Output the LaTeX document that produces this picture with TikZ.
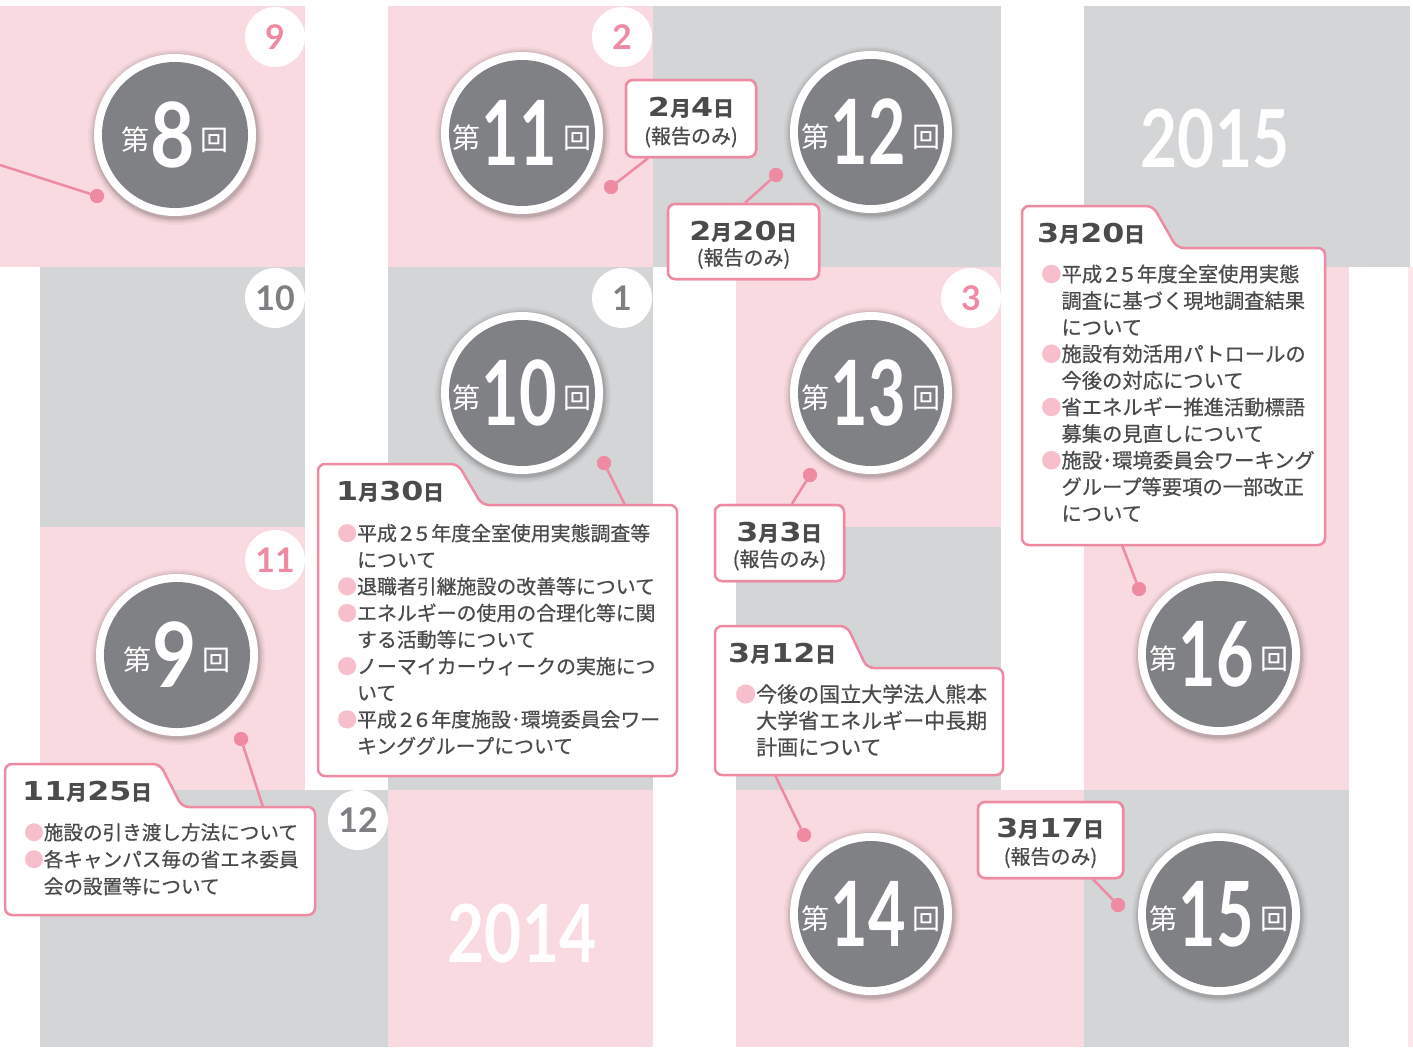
\documentclass[tikz,border=0pt]{standalone}
\usepackage{fontspec}
\usepackage{graphicx}
\setmainfont{Noto Sans CJK JP}
\newfontfamily\bodyf{Noto Sans CJK JP}[FakeBold=0.6]
\newfontfamily\latof{Lato}
\newfontfamily\dvf{DejaVu Sans}
\definecolor{tilepink}{HTML}{F9DAE0}
\definecolor{tilegray}{HTML}{D4D5D7}
\definecolor{accent}{HTML}{EE8BA3}
\definecolor{bulpink}{HTML}{F7BECB}
\definecolor{txtc}{HTML}{4B4B4D}
\definecolor{badgec}{HTML}{808184}
\definecolor{lblgray}{HTML}{7E7F82}
\definecolor{edgepink}{HTML}{FBE6EA}
\newcommand\bul{\textcolor{bulpink}{●}}
\newcommand\ind{\hspace*{1em}}
\newcommand\dg[2]{\kern3pt\scalebox{1.15}[1]{#1}\kern3pt\scalebox{1.15}[1]{#2}\kern3pt}
\newcommand\dnum[1]{{\dvf\bfseries\fontsize{26}{26}\selectfont\scalebox{1.22}[1]{#1}}}
\newcommand\dk[1]{{\bfseries\fontsize{21}{21}\selectfont #1}}
\newcommand\kfont{\fontsize{28}{28}\selectfont}
\newcommand\numf{\latof\bfseries\fontsize{90}{90}\selectfont}
\newcommand\badge[5]{%
  \foreach \r/\o in {88/0.03,86/0.05,84/0.07,82.5/0.09}{\fill[black, opacity=\o] (#2+1,#3+2) circle (\r pt);}
  \node[circle, fill=white, minimum size=162pt, inner sep=0] (#1) at (#2,#3) {};
  \node[circle, fill=badgec, minimum size=146pt, inner sep=0] (#1i) at (#1) {};
  \node[inner sep=0, anchor=base, text=white] (#1t) at (#2,#3+32.5)
    {\raisebox{17pt}{\kfont 第}\kern1pt\scalebox{#5}[1]{\numf #4}\kern6pt\raisebox{17pt}{\kfont 回}};
}
\tikzset{
  tilep/.style={fill=tilepink},
  tileg/.style={fill=tilegray},
  lbl/.style={circle, fill=white, minimum size=60pt, inner sep=0, font=\latof\bfseries\fontsize{34}{34}\selectfont},
  conn/.style={draw=accent, line width=2.5pt},
  dotn/.style={circle, fill=accent, minimum size=14pt, inner sep=0},
  callout/.style={draw=accent, line width=2.5pt, fill=white, rounded corners=7pt},
  boxn/.style={callout, rectangle, inner sep=0},
  bodytxt/.style={inner sep=0, anchor=base west, text=txtc, font=\bodyf\fontsize{#1}{26.6}\selectfont},
  datetxt/.style={inner sep=0, text=txtc},
  subtxt/.style={inner sep=0, anchor=base, text=txtc, font=\bodyf\fontsize{20}{20}\selectfont},
  yeartxt/.style={inner sep=0, font=\latof\bfseries\fontsize{80}{80}\selectfont},
}
\begin{document}
\begin{tikzpicture}[x=1pt, y=-1pt]
\useasboundingbox (0,0) rectangle (1413,1047);
% tiles
\fill[tilep] (0,6) rectangle (305,267);
\fill[tilep] (388,6) rectangle (653,267);
\fill[tileg] (653,6) rectangle (1001,267);
\fill[tileg] (1084,6) rectangle (1410,267);
\fill[tileg] (40,267) rectangle (305,527);
\fill[tileg] (388,267) rectangle (653,527);
\fill[tilep] (736,267) rectangle (1001,527);
\fill[tilep] (1084,267) rectangle (1349,527);
\fill[tilep] (40,527) rectangle (305,790);
\fill[tileg] (388,527) rectangle (653,790);
\fill[tileg] (736,527) rectangle (1001,790);
\fill[tilep] (1084,527) rectangle (1349,790);
\fill[tileg] (40,790) rectangle (388,1047);
\fill[tilep] (388,790) rectangle (653,1047);
\fill[tilep] (736,790) rectangle (1084,1047);
\fill[tileg] (1084,790) rectangle (1349,1047);
\fill[edgepink] (1408,267) rectangle (1413,1047);
% month labels
\node[lbl, text=accent] (m9) at (275,37) {9};
\node[lbl, text=accent] (m2) at (622,37) {2};
\node[lbl, text=lblgray] (m10) at (275,298) {10};
\node[lbl, text=lblgray] (m1) at (622,298) {1};
\node[lbl, text=accent] (m3) at (971,298) {3};
\node[lbl, text=accent] (m11) at (275,560) {11};
\node[lbl, text=lblgray] (m12) at (358,820) {12};
% years
\node[yeartxt, text=white] (y2015) at (1215,139) {\scalebox{0.8}[1]{2015}};
\node[yeartxt, text=white] (y2014) at (522,934) {\scalebox{0.8}[1]{2014}};
% dots
\node[dotn] (d8) at (97,196) {};
\node[dotn] (d11) at (611,187) {};
\node[dotn] (d12) at (776,175) {};
\node[dotn] (d10) at (604,463) {};
\node[dotn] (d13) at (810,475) {};
\node[dotn] (d9) at (241,739) {};
\node[dotn] (d16) at (1139,589) {};
\node[dotn] (d14) at (804,835) {};
\node[dotn] (d15) at (1118,905) {};
% badges
\badge{c8}{175}{135}{8}{0.85}
\badge{c11}{522}{133}{11}{0.72}
\badge{c12}{871}{132}{12}{0.72}
\badge{c10}{522}{393}{10}{0.72}
\badge{c13}{871}{393}{13}{0.72}
\badge{c9}{177}{655}{9}{0.85}
\badge{c16}{1219}{654}{16}{0.72}
\badge{c14}{871}{914}{14}{0.72}
\badge{c15}{1219}{914}{15}{0.72}
% simple boxes
\node[boxn, minimum width=130pt, minimum height=77pt] (b24) at (691,118.5) {};
\node[boxn, minimum width=151pt, minimum height=75pt] (b220) at (743.5,241.5) {};
\node[boxn, minimum width=129pt, minimum height=76pt] (b33) at (779.5,543) {};
\node[boxn, minimum width=145pt, minimum height=76pt] (b317) at (1050.5,840) {};
% tab callout attachment points
\coordinate (a8) at (0,165);
\coordinate (a130) at (625,505);
\coordinate (a312) at (775,775);
\coordinate (a320) at (1122,545);
\coordinate (a1125) at (263,807);
% connectors
\draw[conn] (a8) -- (d8);
\draw[conn] ([xshift=-43pt]b24.south) -- (d11);
\draw[conn] ([xshift=1.5pt]b220.north) -- (d12);
\draw[conn] ([xshift=12.5pt]b33.north) -- (d13);
\draw[conn] ([xshift=42.5pt]b317.south) -- (d15);
\draw[conn] (a130) -- (d10);
\draw[conn] (a312) -- (d14);
\draw[conn] (a320) -- (d16);
\draw[conn] (a1125) -- (d9);
\node[dotn] at (d8) {};
\node[dotn] at (d11) {};
\node[dotn] at (d12) {};
\node[dotn] at (d10) {};
\node[dotn] at (d13) {};
\node[dotn] at (d9) {};
\node[dotn] at (d16) {};
\node[dotn] at (d14) {};
\node[dotn] at (d15) {};
% boxes on top
\node[boxn, minimum width=130pt, minimum height=77pt] at (b24) {};
\node[boxn, minimum width=151pt, minimum height=75pt] at (b220) {};
\node[boxn, minimum width=129pt, minimum height=76pt] at (b33) {};
\node[boxn, minimum width=145pt, minimum height=76pt] at (b317) {};
\draw[callout] (318,776) -- (318,464) -- (458,464) -- (482,505) -- (677,505) -- (677,776) -- cycle;
\draw[callout] (715,775) -- (715,626) -- (847,626) -- (867,668) -- (1003,668) -- (1003,775) -- cycle;
\draw[callout] (1022,545) -- (1022,206) -- (1153,206) -- (1177,248) -- (1325,248) -- (1325,545) -- cycle;
\draw[callout] (5,915) -- (5,764) -- (160,764) -- (182,807) -- (315,807) -- (315,915) -- cycle;
% simple box texts
\node[datetxt, anchor=base] (t24) at (691,116) {\dnum{2}\dk{月}\dnum{4}\dk{日}};
\node[subtxt] (s24) at (691,143.5) {(報告のみ)};
\node[datetxt, anchor=base] (t220) at (743.5,240) {\dnum{2}\dk{月}\dnum{20}\dk{日}};
\node[subtxt] (s220) at (743.5,265) {(報告のみ)};
\node[datetxt, anchor=base] (t33) at (779.5,541) {\dnum{3}\dk{月}\dnum{3}\dk{日}};
\node[subtxt] (s33) at (779.5,566.5) {(報告のみ)};
\node[datetxt, anchor=base] (t317) at (1050.5,837) {\dnum{3}\dk{月}\dnum{17}\dk{日}};
\node[subtxt] (s317) at (1050.5,864) {(報告のみ)};
% tab dates
\node[datetxt, anchor=base west] (t130) at (336,500) {\dnum{1}\dk{月}\dnum{30}\dk{日}};
\node[datetxt, anchor=base west] (t320) at (1037,242) {\dnum{3}\dk{月}\dnum{20}\dk{日}};
\node[datetxt, anchor=base west] (t312) at (728,662) {\dnum{3}\dk{月}\dnum{12}\dk{日}};
\node[datetxt, anchor=base west] (t1125) at (22,800) {\dnum{11}\dk{月}\dnum{25}\dk{日}};
% bodies
\foreach \t [count=\k from 0] in {{\bul 平成\dg25年度全室使用実態調査等},{\ind について},{\bul 退職者引継施設の改善等について},{\bul エネルギーの使用の合理化等に関},{\ind する活動等について},{\bul ノーマイカーウィークの実施につ},{\ind いて},{\bul 平成\dg26年度施設･環境委員会ワー},{\ind キンググループについて}}
  \node[bodytxt=19.9] (l130-\k) at (337,540.7+26.6*\k) {\t};
\foreach \t [count=\k from 0] in {{\bul 今後の国立大学法人熊本},{\ind 大学省エネルギー中長期},{\ind 計画について}}
  \node[bodytxt=21] (l312-\k) at (735,702+26.5*\k) {\t};
\foreach \t [count=\k from 0] in {{\bul 平成\dg25年度全室使用実態},{\ind 調査に基づく現地調査結果},{\ind について},{\bul 施設有効活用パトロールの},{\ind 今後の対応について},{\bul 省エネルギー推進活動標語},{\ind 募集の見直しについて},{\bul 施設･環境委員会ワーキング},{\ind グループ等要項の一部改正},{\ind について}}
  \node[bodytxt=20.3] (l320-\k) at (1041,281.7+26.6*\k) {\t};
\foreach \t [count=\k from 0] in {{\bul 施設の引き渡し方法について},{\bul 各キャンパス毎の省エネ委員},{\ind 会の設置等について}}
  \node[bodytxt=19.6] (l1125-\k) at (24,839.7+27*\k) {\t};
\end{tikzpicture}
\end{document}
